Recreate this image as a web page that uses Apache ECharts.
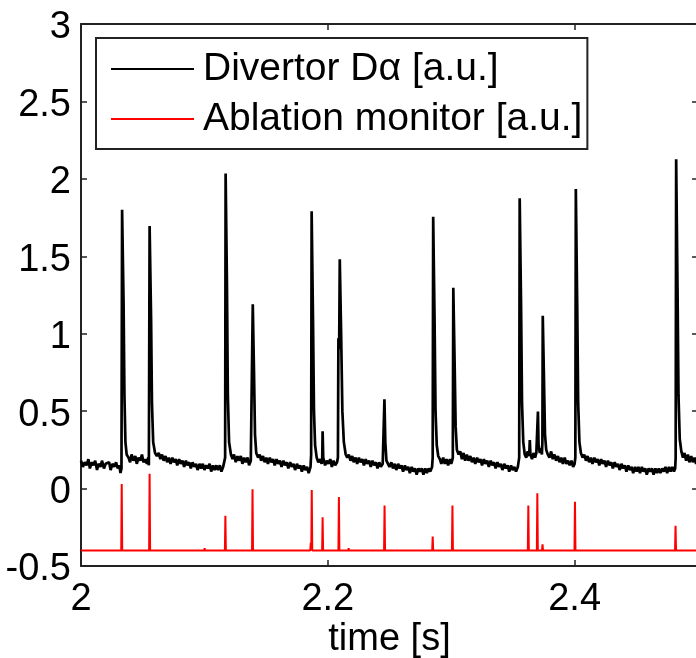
<!DOCTYPE html>
<html>
<head>
<meta charset="utf-8">
<script src="https://cdn.jsdelivr.net/npm/echarts@6/dist/echarts.min.js"></script>
<style>
html,body{margin:0;padding:0;background:#fff;overflow:hidden;}
#chart{width:696px;height:658px;}
</style>
</head>
<body>
<div id="chart"></div>
<script>
// ---- data ----
const seriesNames = ['Divertor D\u03b1 [a.u.]', 'Ablation monitor [a.u.]'];
const xTicks = [2, 2.2, 2.4];
const yTicks = [-0.5, 0, 0.5, 1, 1.5, 2, 2.5, 3];

// Divertor D-alpha trace: [time (s), value (a.u.)]
const dalpha = [
  [2.000,.18],[2.0015,.14],[2.003,.17],[2.0045,.15],[2.006,.19],[2.0072,.13],[2.0088,.17],[2.010,.15],
  [2.0115,.18],[2.013,.12],[2.0142,.16],[2.0158,.14],[2.017,.18],[2.0186,.13],[2.020,.16],[2.0212,.15],
  [2.0228,.17],[2.024,.12],[2.0255,.16],[2.027,.14],[2.0284,.17],[2.0298,.13],[2.031,.15],[2.032,.10],
  [2.0328,.13],[2.0333,1.80],[2.0345,1.2],[2.0352,.6],[2.036,.3],[2.037,.22],
  [2.0385,.2],[2.0398,.17],[2.041,.22],[2.0425,.18],[2.044,.21],[2.0452,.16],[2.0466,.2],[2.048,.18],
  [2.0494,.22],[2.0506,.17],[2.052,.19],[2.0534,.16],[2.0545,.2],
  [2.0550,.15],[2.0556,1.695],[2.0568,1.1],[2.0575,.55],[2.0585,.3],[2.060,.23],
  [2.0615,.21],[2.063,.23],[2.0643,.19],[2.0657,.22],[2.067,.18],[2.0685,.21],[2.0698,.17],[2.0712,.2],
  [2.0726,.16],[2.074,.2],[2.0753,.17],[2.0767,.19],[2.078,.15],[2.0795,.19],[2.0808,.16],[2.0822,.18],
  [2.0836,.14],[2.085,.18],[2.0863,.15],[2.0877,.17],[2.089,.13],[2.0904,.17],[2.0918,.14],[2.0932,.16],
  [2.0945,.12],[2.096,.16],[2.0973,.13],[2.0987,.16],[2.1,.12],[2.1014,.15],[2.1028,.13],[2.1042,.16],
  [2.1055,.11],[2.107,.15],[2.1083,.12],[2.1097,.15],[2.111,.12],[2.1125,.15],[2.1138,.11],[2.1152,.14],
  [2.1165,.13],
  [2.1168,.2],[2.1172,2.035],[2.1183,1.3],[2.119,.6],[2.120,.3],[2.1215,.22],
  [2.1228,.19],[2.124,.22],[2.1254,.17],[2.1268,.21],[2.128,.18],[2.1295,.21],[2.1308,.16],[2.1322,.2],
  [2.1335,.17],[2.135,.2],[2.1362,.15],[2.1376,.18],
  [2.1385,.17],[2.1392,1.19],[2.1402,.75],[2.141,.35],[2.142,.23],
  [2.1435,.2],[2.1448,.22],[2.146,.18],[2.1475,.21],[2.1488,.17],[2.1502,.2],[2.1515,.16],[2.153,.2],
  [2.1543,.17],[2.1557,.19],[2.157,.15],[2.1585,.19],[2.1598,.16],[2.1612,.18],[2.1625,.14],[2.164,.18],
  [2.1653,.15],[2.1667,.17],[2.168,.13],[2.1695,.17],[2.1708,.14],[2.1722,.16],[2.1735,.12],[2.175,.16],
  [2.1763,.13],[2.1777,.15],[2.179,.11],[2.1805,.15],[2.1818,.12],[2.1832,.14],[2.1845,.10],[2.186,.14],
  [2.1865,.22],[2.1869,1.79],[2.188,1.1],[2.1888,.5],[2.1897,.28],
  [2.191,.2],[2.1923,.17],[2.1937,.19],[2.195,.16],
  [2.1955,.2],[2.1958,.37],[2.1963,.2],
  [2.1978,.15],[2.1992,.18],[2.2005,.16],[2.202,.19],[2.2033,.14],[2.2047,.18],[2.206,.15],[2.2075,.17],
  [2.2082,.2],[2.2086,.97],[2.2092,.9],[2.2097,1.48],[2.2108,1.0],[2.2118,.5],[2.213,.3],[2.2145,.22],
  [2.2158,.2],[2.217,.22],[2.2184,.18],[2.2198,.21],[2.221,.17],[2.2225,.2],[2.2238,.16],[2.2252,.2],
  [2.2265,.17],[2.228,.19],[2.2293,.15],[2.2307,.19],[2.232,.16],[2.2335,.18],[2.2348,.14],[2.2362,.18],
  [2.2375,.15],[2.239,.17],[2.2403,.13],[2.2417,.17],[2.243,.14],[2.2445,.16],
  [2.2455,.17],[2.2459,.576],[2.2466,.3],[2.2475,.18],
  [2.2488,.17],[2.25,.14],[2.2515,.17],[2.2528,.13],[2.2542,.16],[2.2555,.12],[2.257,.16],[2.2583,.13],
  [2.2597,.15],[2.261,.11],[2.2625,.15],[2.2638,.12],[2.2652,.14],[2.2665,.1],[2.268,.14],[2.2693,.11],
  [2.2707,.13],[2.272,.09],[2.2735,.13],[2.2748,.11],[2.2762,.13],[2.2775,.09],[2.279,.13],[2.2803,.1],
  [2.2817,.13],[2.283,.11],[2.2845,.14],
  [2.2850,.2],[2.2854,1.755],[2.2865,1.1],[2.2873,.5],[2.2883,.28],[2.2895,.21],
  [2.2908,.19],[2.292,.16],[2.2935,.2],[2.2948,.16],[2.2962,.19],[2.2975,.15],[2.299,.19],[2.3,.16],
  [2.3008,.18],
  [2.3013,.2],[2.3017,1.297],[2.3028,.8],[2.3036,.4],[2.3046,.25],
  [2.306,.22],[2.3073,.24],[2.3087,.19],[2.31,.23],[2.3113,.18],[2.3127,.22],[2.314,.18],[2.3155,.21],
  [2.3168,.17],[2.3182,.2],[2.3195,.16],[2.321,.2],[2.3223,.17],[2.3237,.19],[2.325,.15],[2.3265,.19],
  [2.3278,.16],[2.3292,.18],[2.3305,.14],[2.332,.18],[2.3333,.15],[2.3347,.17],[2.336,.13],[2.3375,.17],
  [2.3388,.14],[2.3402,.16],[2.3415,.12],[2.343,.16],[2.3443,.13],[2.3457,.15],[2.347,.11],[2.3485,.15],
  [2.3498,.12],[2.3512,.14],[2.3525,.11],[2.354,.14],[2.355,.13],
  [2.3551,.2],[2.3555,1.874],[2.3566,1.2],[2.3574,.55],[2.3584,.3],[2.3596,.22],
  [2.3608,.2],[2.362,.24],[2.3632,.21],[2.3637,.314],[2.3642,.22],[2.3655,.19],[2.3667,.23],[2.368,.2],
  [2.369,.23],
  [2.3699,.22],[2.3703,.497],[2.3708,.28],[2.3718,.23],[2.3728,.26],[2.3735,.22],
  [2.3739,.3],[2.3742,1.116],[2.3752,.7],[2.376,.35],[2.377,.25],
  [2.3783,.22],[2.3796,.2],[2.381,.24],[2.3823,.19],[2.3837,.22],[2.385,.18],[2.3865,.21],[2.3878,.17],
  [2.3892,.2],[2.3905,.16],[2.392,.2],[2.3933,.16],[2.3947,.18],[2.396,.15],[2.3975,.18],[2.3988,.14],
  [2.400,.16],
  [2.4006,.2],[2.401,1.934],[2.4021,1.2],[2.4029,.55],[2.4039,.3],[2.4051,.23],
  [2.4065,.2],[2.4078,.22],[2.4092,.18],[2.4105,.21],[2.4118,.17],[2.4132,.2],[2.4145,.16],[2.416,.2],
  [2.4173,.17],[2.4187,.19],[2.42,.15],[2.4215,.19],[2.4228,.16],[2.4242,.18],[2.4255,.14],[2.427,.18],
  [2.4283,.15],[2.4297,.17],[2.431,.13],[2.4325,.17],[2.4338,.14],[2.4352,.16],[2.4365,.12],[2.438,.16],
  [2.4393,.13],[2.4407,.15],[2.442,.11],[2.4435,.15],[2.4448,.12],[2.4462,.14],[2.4475,.1],[2.449,.14],
  [2.4503,.11],[2.4517,.14],[2.453,.1],[2.4545,.14],[2.4558,.11],[2.4572,.13],[2.4585,.09],[2.46,.13],
  [2.4613,.11],[2.4627,.13],[2.464,.09],[2.4655,.13],[2.4668,.1],[2.4682,.13],[2.4695,.1],[2.471,.13],
  [2.4723,.11],[2.4737,.14],[2.475,.1],[2.4765,.14],[2.4778,.11],[2.4792,.14],[2.4805,.11],[2.4815,.13],
  [2.4819,.2],[2.4823,2.126],[2.4834,1.3],[2.4842,.6],[2.4852,.32],[2.4865,.24],
  [2.4878,.2],[2.489,.23],[2.4904,.18],[2.4918,.22],[2.493,.17],[2.4945,.21],[2.4958,.17],[2.4972,.2],
  [2.4985,.16],[2.500,.19]
];

// Ablation monitor trace: [time (s), value (a.u.)]
const ablation = [
  [2.000,-.40],[2.0326,-.40],[2.0330,.03],[2.0334,-.40],
  [2.0552,-.40],[2.0556,.095],[2.0560,-.40],
  [2.0998,-.40],[2.1002,-.385],[2.1006,-.40],
  [2.1166,-.40],[2.1170,-.175],[2.1174,-.40],
  [2.1386,-.40],[2.1390,-.005],[2.1394,-.40],
  [2.1858,-.40],[2.1862,-.35],[2.1866,-.40],[2.1870,-.01],[2.1874,-.40],
  [2.1954,-.40],[2.1958,-.185],[2.1962,-.40],
  [2.2086,-.40],[2.2090,-.055],[2.2094,-.40],
  [2.2165,-.40],[2.2169,-.385],[2.2173,-.40],
  [2.2456,-.40],[2.2460,-.11],[2.2464,-.40],
  [2.2846,-.40],[2.2850,-.31],[2.2854,-.40],
  [2.3006,-.40],[2.3010,-.11],[2.3014,-.40],
  [2.3621,-.40],[2.3625,-.11],[2.3629,-.40],
  [2.3694,-.40],[2.3698,-.03],[2.3702,-.40],
  [2.3736,-.40],[2.3740,-.36],[2.3744,-.40],
  [2.3999,-.40],[2.4003,-.085],[2.4007,-.40],
  [2.4814,-.40],[2.4818,-.24],[2.4822,-.40],[2.500,-.40]
];

// ---- chart ----
const FONT = 'Liberation Sans, Arial, Helvetica, sans-serif';
const axisColor = '#222';
const chart = echarts.init(document.getElementById('chart'), null, {renderer: 'canvas'});

const tickStyle = {show: true, inside: true, length: 6, lineStyle: {color: axisColor, width: 1.5}};

chart.setOption({
  animation: false,
  backgroundColor: '#fff',
  grid: {left: 81, top: 24, right: -2, bottom: 92, containLabel: false, outerBoundsMode: 'none'},
  legend: {
    orient: 'vertical',
    left: 96,
    top: 38,
    padding: [10, 5, 9, 15],
    itemGap: 8,
    itemWidth: 83,
    itemHeight: 2,
    icon: 'rect',
    borderColor: axisColor,
    borderWidth: 2,
    borderRadius: 0,
    backgroundColor: '#fff',
    selectedMode: false,
    textStyle: {fontFamily: FONT, fontSize: 39, color: '#000', lineHeight: 40, padding: [2, 0, 0, 4]},
    data: seriesNames
  },
  xAxis: [
    {
      type: 'value', min: xTicks[0], max: 2.5, interval: xTicks[1] - xTicks[0],
      position: 'bottom',
      name: 'time [s]', nameLocation: 'middle', nameGap: 55, nameMoveOverlap: false,
      nameTextStyle: {fontFamily: FONT, fontSize: 38, color: '#000'},
      axisLine: {show: true, onZero: false, lineStyle: {color: axisColor, width: 2}},
      axisTick: tickStyle,
      splitLine: {show: false},
      axisLabel: {
        fontFamily: FONT, fontSize: 38, color: '#000', margin: 15,
        showMaxLabel: false,
        formatter: v => String(+v.toFixed(1))
      }
    },
    {
      type: 'value', min: xTicks[0], max: 2.5, interval: xTicks[1] - xTicks[0],
      position: 'top',
      axisLine: {show: true, onZero: false, lineStyle: {color: axisColor, width: 2}},
      axisTick: tickStyle,
      splitLine: {show: false},
      axisLabel: {show: false}
    }
  ],
  yAxis: [
    {
      type: 'value', min: yTicks[0], max: yTicks[yTicks.length - 1], interval: 0.5,
      position: 'left',
      axisLine: {show: true, onZero: false, lineStyle: {color: axisColor, width: 2}},
      axisTick: tickStyle,
      splitLine: {show: false},
      axisLabel: {
        fontFamily: FONT, fontSize: 38, color: '#000', margin: 10,
        verticalAlign: 'top', lineHeight: 8,
        formatter: v => String(+v.toFixed(1))
      }
    },
    {
      type: 'value', min: yTicks[0], max: yTicks[yTicks.length - 1], interval: 0.5,
      position: 'right',
      axisLine: {show: true, onZero: false, lineStyle: {color: axisColor, width: 2}},
      axisTick: tickStyle,
      splitLine: {show: false},
      axisLabel: {show: false}
    }
  ],
  series: [
    {
      name: seriesNames[0], type: 'line', data: dalpha,
      xAxisIndex: 0, yAxisIndex: 0,
      showSymbol: false, symbol: 'none', sampling: null,
      lineStyle: {color: '#000', width: 2.7},
      itemStyle: {color: '#000'}
    },
    {
      name: seriesNames[1], type: 'line', data: ablation,
      xAxisIndex: 0, yAxisIndex: 0,
      showSymbol: false, symbol: 'none', sampling: null,
      lineStyle: {color: '#ff0000', width: 2},
      itemStyle: {color: '#ff0000'}
    }
  ]
});
</script>
</body>
</html>
